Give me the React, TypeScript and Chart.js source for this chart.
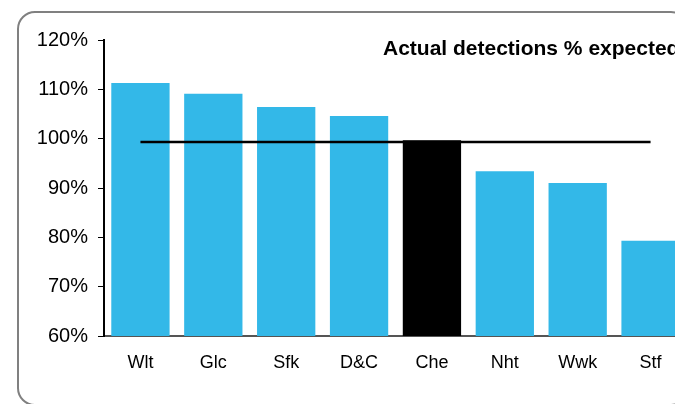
import React, { useEffect, useRef } from "react";
import { Chart, registerables } from "chart.js";

Chart.register(...registerables);

const categories = ["Wlt", "Glc", "Sfk", "D&C", "Che", "Nht", "Wwk", "Stf"];
const actualPct = [111.3, 109.1, 106.4, 104.6, 99.7, 93.4, 91.0, 79.3];
const expectedLine = [99.3, 99.3, 99.3, 99.3, 99.3, 99.3, 99.3, 99.3];
const highlightCategory = "Che";
const yTicks = { min: 60, max: 120, step: 10 };
const titleText = "Actual detections % expected";

const FONT = "'Liberation Sans', Arial, sans-serif";
const BAR_COLOR = "#33B8E8";
const HIGHLIGHT_COLOR = "#000000";

const titlePlugin = {
  id: "insideTitle",
  afterDraw(chart: any) {
    const { ctx, chartArea } = chart;
    ctx.save();
    ctx.font = `bold 21px ${FONT}`;
    ctx.fillStyle = "#000";
    ctx.textAlign = "left";
    ctx.textBaseline = "alphabetic";
    ctx.fillText(titleText, chartArea.left + 279, chartArea.top + 15);
    ctx.restore();
  },
};

export default function App() {
  const canvasRef = useRef<HTMLCanvasElement | null>(null);

  useEffect(() => {
    document.body.style.margin = "8px 0 0 8px";
    if (!canvasRef.current) return;
    const chart = new Chart(canvasRef.current, {
      type: "bar",
      data: {
        labels: categories,
        datasets: [
          {
            type: "line",
            data: expectedLine,
            borderColor: "#000",
            borderWidth: 2.5,
            pointRadius: 0,
            fill: false,
            order: 0,
          } as any,
          {
            type: "bar",
            data: actualPct,
            backgroundColor: categories.map((c) =>
              c === highlightCategory ? HIGHLIGHT_COLOR : BAR_COLOR
            ),
            borderWidth: 0,
            barPercentage: 0.8,
            categoryPercentage: 1,
            order: 1,
          },
        ],
      },
      options: {
        responsive: false,
        animation: false,
        devicePixelRatio: 1,
        layout: { padding: { top: 32, right: 41, left: 0, bottom: 0 } },
        plugins: {
          legend: { display: false },
          tooltip: { enabled: false },
          title: { display: false },
        },
        scales: {
          x: {
            type: "category",
            offset: true,
            grid: { display: true, drawOnChartArea: false, drawTicks: false },
            border: { display: true, color: "#555", width: 2 },
            ticks: {
              color: "#000",
              font: { family: FONT, size: 18 },
              padding: 16,
              maxRotation: 0,
            },
            afterFit(scale: any) {
              scale.height = 68;
            },
          },
          y: {
            min: yTicks.min,
            max: yTicks.max,
            ticks: {
              stepSize: yTicks.step,
              color: "#000",
              font: { family: FONT, size: 20 },
              padding: 10,
              callback: (v: any) => `${v}%`,
            },
            grid: {
              display: true,
              drawOnChartArea: false,
              drawTicks: true,
              tickLength: 6,
              color: "#000",
            },
            border: { display: true, color: "#000", width: 2 },
            afterFit(scale: any) {
              scale.width = 96;
            },
          },
        },
      },
      plugins: [titlePlugin],
    });
    return () => chart.destroy();
  }, []);

  return (
    <div
      style={{
        position: "relative",
        width: 667,
        height: 396,
        overflow: "hidden",
        background: "#fff",
      }}
    >
      <div
        style={{
          position: "absolute",
          left: 9,
          top: 3,
          width: 672,
          height: 395,
          boxSizing: "border-box",
          border: "2px solid #808080",
          borderRadius: 18,
        }}
      />
      <canvas
        ref={canvasRef}
        width={720}
        height={396}
        style={{ position: "absolute", left: 0, top: 0, width: 720, height: 396 }}
      />
    </div>
  );
}
